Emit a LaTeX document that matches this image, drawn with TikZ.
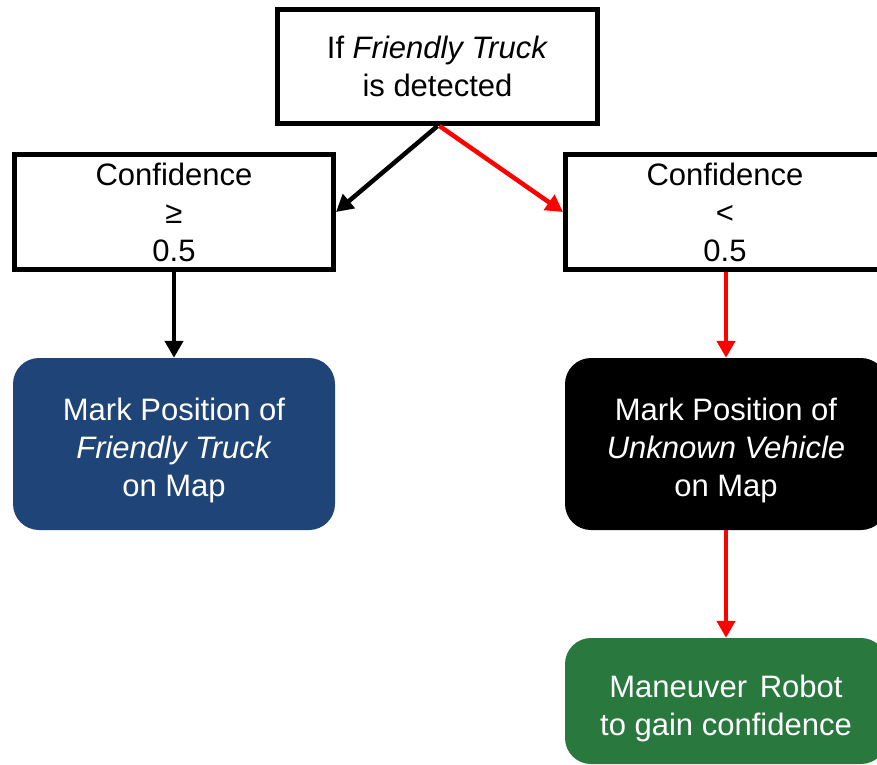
\documentclass[tikz,border=0pt]{standalone}
\usepackage{fontspec}
\setmainfont{Liberation Sans}
\usetikzlibrary{arrows.meta}

\definecolor{boxblue}{RGB}{31,69,120}
\definecolor{boxgreen}{RGB}{41,120,62}
\definecolor{linkred}{RGB}{255,0,0}

\begin{document}
\begin{tikzpicture}[x=1pt,y=-1pt,
  every node/.style={font=\fontsize{31}{38}\selectfont, align=center, inner sep=0pt},
  test/.style={draw=black, line width=5pt, fill=white,
    minimum width=320pt, minimum height=114pt},
  cond/.style={draw=black, line width=5pt, fill=white,
    minimum width=319pt, minimum height=115pt},
  action/.style={rounded corners=26pt,
    minimum width=322pt, minimum height=172pt},
  actiontext/.style={text=white},
  link/.style={line width=4.5pt, -{Triangle[length=17pt,width=18pt]}},
]
\clip (0,0) rectangle (877,764);
\useasboundingbox (0,0) rectangle (877,764);

% decision boxes
\node[test] (top) at (437.5,66.5) {If \textit{Friendly Truck}\\is detected};
\node[cond] (ge) at (174,212) {Confidence\\≥\\0.5};
\node[cond] (lt) at (725,212) {Confidence\\<\\0.5};

% action boxes, with their labels set slightly below centre
\node[action, fill=boxblue] (friend) at (174,444) {};
\node[actiontext] (friendtext) at ([yshift=-6pt]friend.center)
  {Mark Position of\\\textit{Friendly Truck}\\on Map};
\node[action, fill=black] (unknown) at (726,444) {};
\node[actiontext] (unknowntext) at ([yshift=-6pt]unknown.center)
  {Mark Position of\\\textit{Unknown Vehicle}\\on Map};
\node[action, fill=boxgreen, minimum height=126pt] (move) at (726,701) {};
\node[actiontext] (movetext) at ([yshift=-7pt]move.center)
  {Maneuver\hspace{4pt} Robot\\to gain confidence};

% connectors
\draw[link, black] (top.south) -- (ge.east);
\draw[link, linkred] ([xshift=2pt]top.south) -- (lt.west);
\draw[link, black] (ge.south) -- (friend.north);
\draw[link, linkred] ([xshift=1pt]lt.south) -- (unknown.north);
\draw[link, linkred] (unknown.south) -- (move.north);
\end{tikzpicture}
\end{document}
